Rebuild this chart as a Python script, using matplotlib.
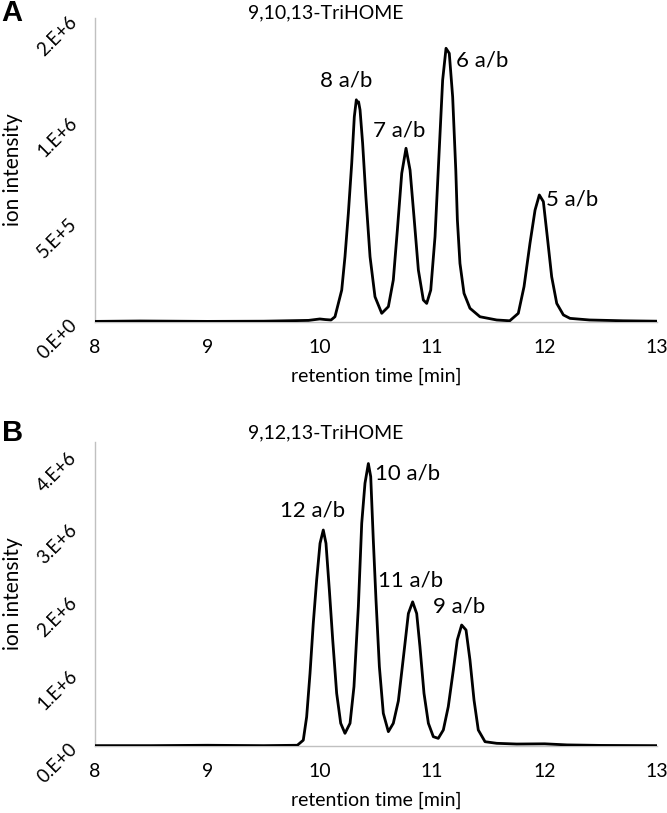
import matplotlib
matplotlib.use("Agg")
import matplotlib.pyplot as plt

plt.rcParams['font.family'] = ['Lato', 'DejaVu Sans']

# ---- data (intensity in units of 1e6) ----
top_title = "9,10,13-TriHOME"
top_t = [8.0, 8.4, 9.0, 9.5, 9.9, 10.0, 10.05, 10.1, 10.135, 10.195, 10.224, 10.254,
         10.284, 10.307, 10.325, 10.334, 10.345, 10.358, 10.381, 10.41, 10.447, 10.491,
         10.551, 10.61, 10.654, 10.69, 10.729, 10.767, 10.803, 10.838, 10.877, 10.921,
         10.951, 10.987, 11.025, 11.064, 11.093, 11.123, 11.152, 11.182, 11.21, 11.224,
         11.247, 11.283, 11.336, 11.425, 11.574, 11.69, 11.766, 11.817, 11.87, 11.915,
         11.953, 11.989, 12.024, 12.063, 12.108, 12.167, 12.226, 12.4, 12.7, 13.0]
top_i = [0.003, 0.005, 0.003, 0.004, 0.008, 0.015, 0.012, 0.01, 0.026, 0.158, 0.323, 0.538,
         0.786, 1.016, 1.10, 1.085, 1.09, 1.05, 0.885, 0.62, 0.323, 0.125,
         0.043, 0.076, 0.208, 0.455, 0.736, 0.86, 0.752, 0.521, 0.257, 0.109,
         0.092, 0.158, 0.422, 0.868, 1.198, 1.355, 1.33, 1.115, 0.75, 0.505,
         0.29, 0.142, 0.068, 0.026, 0.01, 0.006, 0.043, 0.175, 0.39, 0.554,
         0.629, 0.596, 0.422, 0.224, 0.092, 0.035, 0.018, 0.01, 0.006, 0.004]
top_labels = ["8 a/b", "7 a/b", "6 a/b", "5 a/b"]
top_label_t = [10.233, 10.705, 11.448, 12.248]
top_label_i = [1.198, 0.95, 1.297, 0.604]
top_yticks = [0, 0.5, 1.0, 1.5]
top_yticklabels = ["0.E+0", "5.E+5", "1.E+6", "2.E+6"]
top_ymax = 1.505

bot_title = "9,12,13-TriHOME"
bot_t = [8.0, 8.5, 9.0, 9.5, 9.8, 9.853, 9.883, 9.913, 9.942, 9.972, 10.002, 10.031,
         10.055, 10.085, 10.115, 10.15, 10.186, 10.224, 10.269, 10.304, 10.343, 10.373,
         10.402, 10.432, 10.453, 10.476, 10.5, 10.53, 10.565, 10.61, 10.654, 10.699,
         10.735, 10.758, 10.788, 10.826, 10.862, 10.891, 10.927, 10.966, 11.01, 11.054,
         11.099, 11.143, 11.188, 11.223, 11.262, 11.301, 11.336, 11.372, 11.41, 11.47,
         11.574, 11.752, 12.0, 12.2, 12.5, 13.0]
bot_i = [0.005, 0.005, 0.01, 0.005, 0.01, 0.08, 0.40, 1.0, 1.685, 2.28, 2.784, 2.967,
         2.784, 2.143, 1.456, 0.724, 0.312, 0.174, 0.312, 0.815, 1.913, 3.06,
         3.61, 3.88, 3.70, 2.83, 2.005, 1.09, 0.449, 0.197, 0.312, 0.62,
         1.1, 1.41, 1.82, 1.98, 1.82, 1.364, 0.724, 0.312, 0.128, 0.105,
         0.22, 0.54, 1.044, 1.456, 1.662, 1.593, 1.181, 0.632, 0.22, 0.059,
         0.037, 0.027, 0.03, 0.015, 0.008, 0.005]
bot_labels = ["12 a/b", "10 a/b", "11 a/b", "9 a/b"]
bot_label_t = [9.935, 10.785, 10.811, 11.238]
bot_label_i = [3.24, 3.75, 2.28, 1.91]
bot_yticks = [0, 1, 2, 3, 4]
bot_yticklabels = ["0.E+0", "1.E+6", "2.E+6", "3.E+6", "4.E+6"]
bot_ymax = 4.176

xticks = [8, 9, 10, 11, 12, 13]
scale = 1e6

fig = plt.figure(figsize=(6.67, 8.13), dpi=100)
W, H = 667, 813

def make_axes(top_px, bottom_px):
    return fig.add_axes([95 / W, 1 - bottom_px / H, 562 / W, (bottom_px - top_px) / H])

panels = [
    (make_axes(18, 322), top_t, top_i, top_labels, top_label_t, top_label_i,
     top_yticks, top_yticklabels, top_ymax, top_title, "A", 1.016),
    (make_axes(442, 746), bot_t, bot_i, bot_labels, bot_label_t, bot_label_i,
     bot_yticks, bot_yticklabels, bot_ymax, bot_title, "B", 1.03),
]

for ax, t, inten, labs, lt, li, yt, ytl, ymax, title, letter, ty in panels:
    ax.plot(t, [v * scale for v in inten], color="black", lw=2.0, solid_joinstyle="round", zorder=3)
    ax.set_xlim(8, 13)
    ax.set_ylim(0, ymax * scale)
    ax.set_xticks(xticks)
    ax.set_xticklabels([str(x) for x in xticks], fontsize=14)
    ax.set_yticks([v * scale for v in yt])
    ax.set_yticklabels(ytl, fontsize=13.5, rotation=45, ha="right", va="center",
                       rotation_mode="anchor")
    ax.tick_params(axis="both", length=0)
    ax.tick_params(axis="x", pad=12)
    ax.tick_params(axis="y", pad=15)
    for s in ["top", "right"]:
        ax.spines[s].set_visible(False)
    for s in ["left", "bottom"]:
        ax.spines[s].set_color("#c0c0c0")
        ax.spines[s].set_linewidth(1.0)
    ax.set_xlabel("retention time [min]", fontsize=14)
    ax.xaxis.set_label_coords(0.5, -0.15)
    ax.set_ylabel("ion intensity", fontsize=15)
    ax.yaxis.set_label_coords(-0.128, 0.5)
    for lab, x, y in zip(labs, lt, li):
        ax.text(x, y * scale, lab, fontsize=16, ha="center", va="center")
    ax.text(0.41, ty, title, transform=ax.transAxes, fontsize=14,
            ha="center", va="center")
    ax.text(-0.166, ty, letter, transform=ax.transAxes, fontsize=21,
            fontweight="bold", family="Liberation Sans", ha="left", va="center")

fig.savefig("out.png", dpi=100)
